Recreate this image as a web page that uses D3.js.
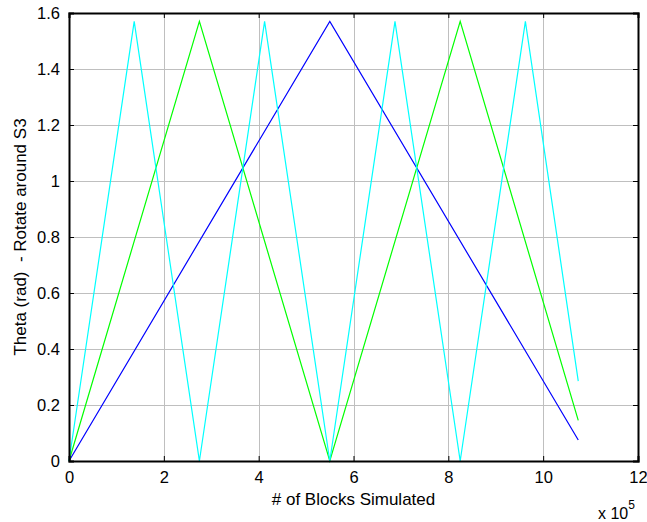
<!DOCTYPE html>
<html>
<head>
<meta charset="utf-8">
<style>
  body { margin: 0; background: #fff; }
  svg { display: block; font-family: "Liberation Sans", Arial, sans-serif; }
</style>
</head>
<body>
<svg width="647" height="522"></svg>
<script src="https://cdn.jsdelivr.net/npm/d3@7/dist/d3.min.js"></script>
<script>
// vertices (x in units of 1e5 blocks, theta in rad)
var blueX = [0, 5.5, 10.74];
var blueY = [0, 1.57, 0.075];
var greenX = [0, 2.75, 5.5, 8.25, 10.74];
var greenY = [0, 1.57, 0, 1.57, 0.145];
var cyanX = [0, 1.375, 2.75, 4.125, 5.5, 6.875, 8.25, 9.625, 10.74];
var cyanY = [0, 1.57, 0, 1.57, 0, 1.57, 0, 1.57, 0.285];
var xTicks = [0, 2, 4, 6, 8, 10, 12];
var yTicks = [0, 0.2, 0.4, 0.6, 0.8, 1, 1.2, 1.4, 1.6];

var svg = d3.select("svg"),
    mLeft = 69, mRight = 638, mTop = 13, mBottom = 461;

var x = d3.scaleLinear().domain([0, 12]).range([mLeft, mRight]);
var y = d3.scaleLinear().domain([0, 1.6]).range([mBottom, mTop]);

// grid
var grid = svg.append("g").attr("stroke", "#bfbfbf").attr("stroke-width", 1);
grid.selectAll("line.gx").data(xTicks.slice(1, -1)).enter().append("line")
    .attr("x1", function(d) { return Math.round(x(d)) + 0.5; })
    .attr("x2", function(d) { return Math.round(x(d)) + 0.5; })
    .attr("y1", mTop).attr("y2", mBottom);
grid.selectAll("line.gy").data(yTicks.slice(1, -1)).enter().append("line")
    .attr("y1", function(d) { return Math.round(y(d)) + 0.5; })
    .attr("y2", function(d) { return Math.round(y(d)) + 0.5; })
    .attr("x1", mLeft).attr("x2", mRight);

// series
var line = d3.line()
    .x(function(d) { return x(d[0]); })
    .y(function(d) { return y(d[1]); });

function pairs(xs, ys) { return xs.map(function(v, i) { return [v, ys[i]]; }); }

[[blueX, blueY, "#0000ff"], [greenX, greenY, "#00ff00"], [cyanX, cyanY, "#00ffff"]].forEach(function(s) {
  svg.append("path")
      .attr("d", line(pairs(s[0], s[1])))
      .attr("fill", "none")
      .attr("stroke", s[2])
      .attr("stroke-width", 1.2);
});

// axes: ticks inward on all four sides
var xAxisB = d3.axisBottom(x).tickValues(xTicks).tickSize(-5).tickPadding(10).tickFormat(d3.format("d"));
var xAxisT = d3.axisTop(x).tickValues(xTicks).tickSize(-5).tickFormat("");
var yAxisL = d3.axisLeft(y).tickValues(yTicks).tickSize(-5).tickPadding(9).tickFormat(function(d) { return d === 0 || d === 1 ? d : d3.format(".1f")(d); });
var yAxisR = d3.axisRight(y).tickValues(yTicks).tickSize(-5).tickFormat("");

function style(g) {
  g.attr("font-size", 16.5).attr("font-family", "Liberation Sans, Arial, sans-serif");
  g.select(".domain").attr("stroke", "#000").attr("stroke-width", 2);
  g.selectAll(".tick line").attr("stroke", "#000");
  g.selectAll(".tick text").attr("fill", "#000");
}

svg.append("g").attr("transform", "translate(0," + mBottom + ")").call(xAxisB).call(style);
svg.append("g").attr("transform", "translate(0," + mTop + ")").call(xAxisT).call(style);
svg.append("g").attr("transform", "translate(" + mLeft + ",0)").call(yAxisL).call(style);
svg.append("g").attr("transform", "translate(" + mRight + ",0)").call(yAxisR).call(style);

// labels
svg.append("text")
    .attr("x", (mLeft + mRight) / 2).attr("y", 505)
    .attr("text-anchor", "middle").attr("font-size", 17)
    .text("# of Blocks Simulated");

svg.append("text")
    .attr("transform", "translate(26," + ((mTop + mBottom) / 2) + ")rotate(-90)")
    .attr("text-anchor", "middle").attr("font-size", 17)
    .attr("xml:space", "preserve")
    .text("Theta (rad)  - Rotate around S3");

var ex = svg.append("text").attr("x", 598).attr("y", 519).attr("font-size", 16);
ex.append("tspan").text("x 10");
ex.append("tspan").attr("dy", -10).attr("font-size", 12).text("5");
</script>
</body>
</html>
